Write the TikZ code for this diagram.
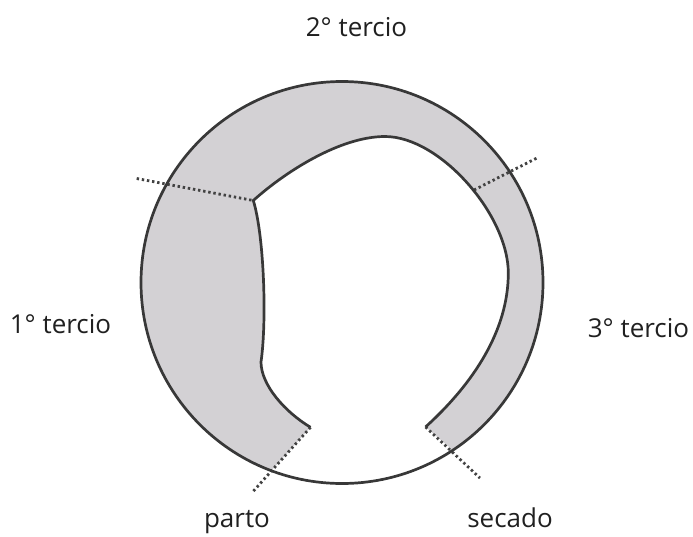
\documentclass[tikz,border=0pt]{standalone}
\usepackage{fontspec}
\setmainfont{Open Sans}
\usetikzlibrary{calc}
\definecolor{ringgray}{HTML}{D3D1D4}
\definecolor{edgegray}{HTML}{383838}
\definecolor{dotgray}{HTML}{424242}
\definecolor{txt}{HTML}{202020}
\begin{document}
\begin{tikzpicture}[x=1pt,y=1pt,
  outline/.style={draw=edgegray, line width=2.7pt},
  border/.style={draw=dotgray, line width=2.8pt, dash pattern=on 2.4pt off 2.8pt},
  tlabel/.style={font=\fontsize{26}{30}\selectfont, text=txt, anchor=base, inner sep=0pt}]
\useasboundingbox (0,0) rectangle (693,-536);
\coordinate (O) at (342,-282.5);
\coordinate (P1) at ($(O)+(249.4:201)$);
\coordinate (P2) at ($(O)+(-56.5:201)$);
\coordinate (A) at (253.3,-200.5);
\coordinate (T) at (385,-136.5);
\coordinate (Rm) at (508.3,-273);
\coordinate (K) at (261,-362);
\coordinate (Lend) at (310.5,-427.3);
\coordinate (Rend) at (425.5,-427);
\coordinate (Rmid) at (474,-190);
\coordinate (Lout) at (136.7,-178.5);
\coordinate (Rout) at (538.3,-157.3);
\coordinate (LBout) at (251.7,-493);
\coordinate (RBout) at (480,-478);
% gray band
\fill[ringgray] (P1) arc[start angle=249.4, end angle=-56.5, radius=201] -- (Rend)
  .. controls (474,-383) and (508.3,-330) .. (Rm)
  .. controls (508.3,-215) and (440,-136.5) .. (T)
  .. controls (340,-136.5) and (285,-172) .. (A)
  .. controls (264,-235) and (267,-320) .. (K)
  .. controls (261,-385) and (285,-412) .. (Lend)
  -- cycle;
% dotted borders
\draw[border] (Lout) -- (A);
\draw[border] (Rmid) -- (Rout);
\draw[border] (Lend) -- (LBout);
\draw[border] (Rend) -- (RBout);
% outlines
\draw[outline] (O) circle[radius=201];
\draw[outline, line join=miter] (Rend)
  .. controls (474,-383) and (508.3,-330) .. (Rm)
  .. controls (508.3,-215) and (440,-136.5) .. (T)
  .. controls (340,-136.5) and (285,-172) .. (A)
  .. controls (264,-235) and (267,-320) .. (K)
  .. controls (261,-385) and (285,-412) .. (Lend);
% labels
\node[tlabel] (t2) at (356.5,-36) {2° tercio};
\node[tlabel] (t1) at (60.5,-333) {1° tercio};
\node[tlabel] (t3) at (638.5,-337) {3° tercio};
\node[tlabel] (tp) at (237,-527) {parto};
\node[tlabel] (ts) at (510,-527) {secado};
\end{tikzpicture}
\end{document}
